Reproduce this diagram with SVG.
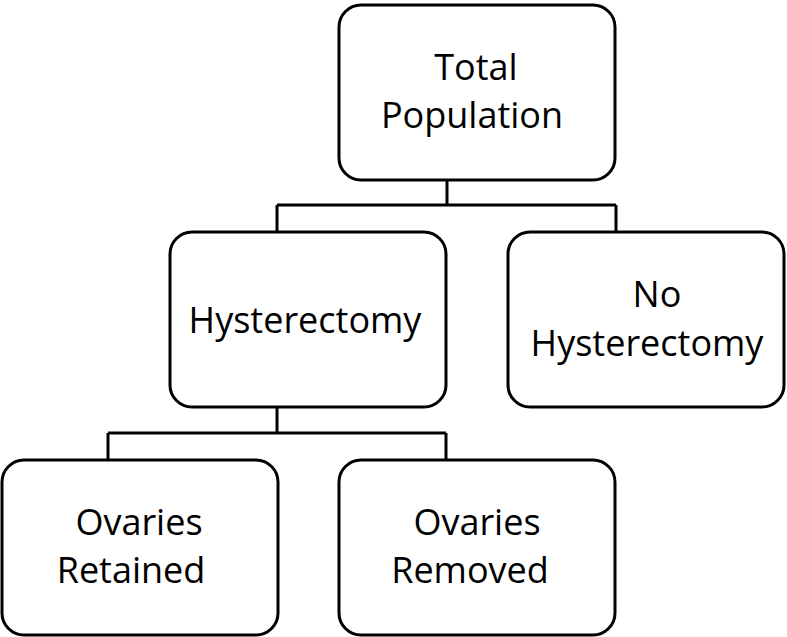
<svg xmlns="http://www.w3.org/2000/svg" width="787" height="637" viewBox="0 0 787 637">
<style>
.box{fill:#fff;stroke:#000;stroke-width:3}
.lbl{font-family:"Open Sans","Noto Sans",sans-serif;font-size:36px;fill:#000;text-anchor:middle}
.con{fill:none;stroke:#000;stroke-width:3}
</style>
<rect width="787" height="637" fill="#fff"/>
<g id="connectors">
<path class="con" d="M447 180V205M277 205H616M277 205V232M616 205V232"/>
<path class="con" d="M277 407V433M108 433H446M108 433V460M446 433V460"/>
</g>
<g id="total">
<rect class="box" x="339" y="5" width="276" height="175" rx="22"/>
<text class="lbl" x="476" y="80">Total</text>
<text class="lbl" x="472" y="128">Population</text>
</g>
<g id="hysterectomy">
<rect class="box" x="170" y="232" width="276" height="175" rx="22"/>
<text class="lbl" x="305" y="333">Hysterectomy</text>
</g>
<g id="no-hysterectomy">
<rect class="box" x="508" y="232" width="276" height="175" rx="22"/>
<text class="lbl" x="657" y="307">No</text>
<text class="lbl" x="647" y="356">Hysterectomy</text>
</g>
<g id="ovaries-retained">
<rect class="box" x="2" y="460" width="276" height="175" rx="22"/>
<text class="lbl" x="139" y="535">Ovaries</text>
<text class="lbl" x="131" y="583">Retained</text>
</g>
<g id="ovaries-removed">
<rect class="box" x="339" y="460" width="276" height="175" rx="22"/>
<text class="lbl" x="477" y="535">Ovaries</text>
<text class="lbl" x="470" y="583">Removed</text>
</g>
</svg>
